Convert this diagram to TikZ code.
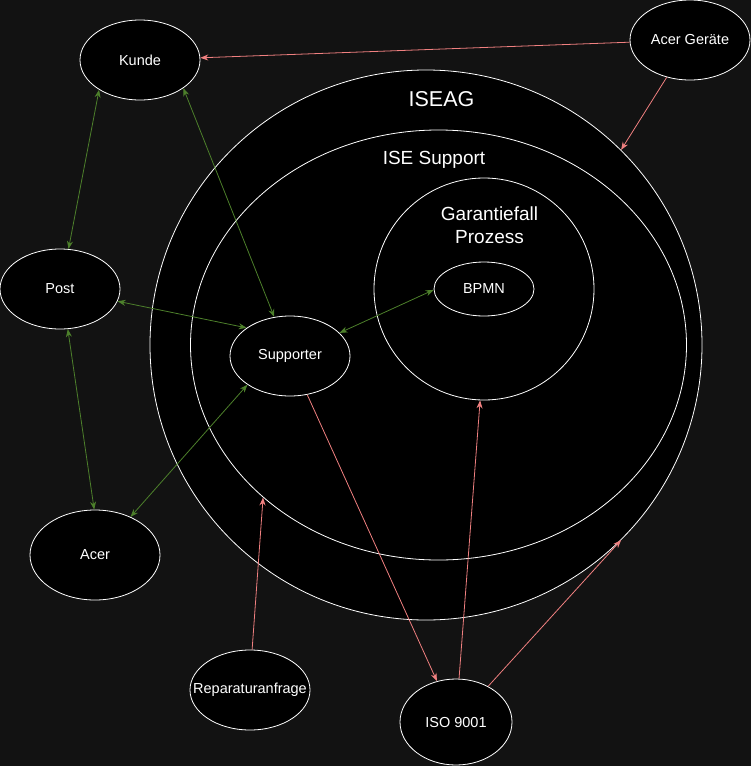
\documentclass[tikz,border=0pt]{standalone}
\usepackage{fontspec}
\setmainfont{Liberation Sans}
\usetikzlibrary{shapes.geometric,arrows.meta}

\definecolor{bgdark}{RGB}{18,18,18}
\definecolor{linkgreen}{RGB}{77,128,43}
\definecolor{linkpink}{RGB}{240,128,128}

\begin{document}
\begin{tikzpicture}[x=1pt,y=-1pt,
			every node/.style = {text=white, align=center},
			blob/.style = {shape=ellipse, draw=white, fill=black, line width=0.8pt, inner sep=0pt, font=\fontsize{14.5}{17}\selectfont},
			title/.style = {font=\fontsize{19}{23.5}\selectfont},
			both/.style = {draw=linkgreen, line width=0.8pt, {Stealth[length=8pt,width=6pt]}-{Stealth[length=8pt,width=6pt]}},
			into/.style = {draw=linkpink, line width=0.8pt, -{Stealth[length=8pt,width=6pt]}}]
			\fill[bgdark] (0,0) rectangle (751,766);
			\useasboundingbox (0,0) rectangle (751,766);
			% nested areas
			\node[blob, minimum width=552pt, minimum height=550pt] (iseag) at (426,345) {};
			\node[blob, minimum width=496pt, minimum height=430pt] (isesupport) at (438.5,345) {};
			\node[blob, minimum width=220pt, minimum height=222pt] (garantie) at (484,289) {};
			\node[title, font=\fontsize{21.5}{25}\selectfont] (iseagtext) at (441.5,99) {ISEAG};
			\node[title] (supporttext) at (434,160) {ISE Support};
			\node[title] (garantietext) at (489.5,225) {Garantiefall\\Prozess};
			% actors
			\node[blob, minimum width=100pt, minimum height=54pt] (bpmn) at (484,289) {BPMN};
			\node[blob, minimum width=120pt, minimum height=80pt] (supporter) at (290,356) {Supporter};
			\node[blob, minimum width=120pt, minimum height=80pt] (kunde) at (140,60) {Kunde};
			\node[blob, minimum width=120pt, minimum height=80pt] (post) at (60,289) {Post};
			\node[blob, minimum width=130pt, minimum height=90pt] (acer) at (95,555) {Acer};
			\node[blob, minimum width=120pt, minimum height=80pt] (acergeraete) at (690,40) {Acer Geräte};
			\node[blob, minimum width=120pt, minimum height=80pt, inner xsep=-20pt] (reparatur) at (250,690) {Reparaturanfrage};
			\node[blob, minimum width=112pt, minimum height=86pt] (iso) at (456,722) {ISO 9001};
			% green links
			\draw[both] (kunde.216) -- (post.78);
			\draw[both] (kunde.-33) -- (supporter.112);
			\draw[both] (post.-12) -- (supporter.147);
			\draw[both] (supporter.25) -- (bpmn.181);
			\draw[both] (post.-79) -- (acer.91);
			\draw[both] (supporter.214) -- (acer.47);
			% pink links
			\draw[into] (acergeraete) -- (kunde);
			\draw[into] (acergeraete.238) -- (iseag.45);
			\draw[into] (supporter.-66) -- (iso.115);
			\draw[into] (iso.86) -- (garantie.-92);
			\draw[into] (iso.48) -- (iseag.-45);
			\draw[into] (reparatur.87) -- (isesupport.221);
		\end{tikzpicture}
\end{document}
